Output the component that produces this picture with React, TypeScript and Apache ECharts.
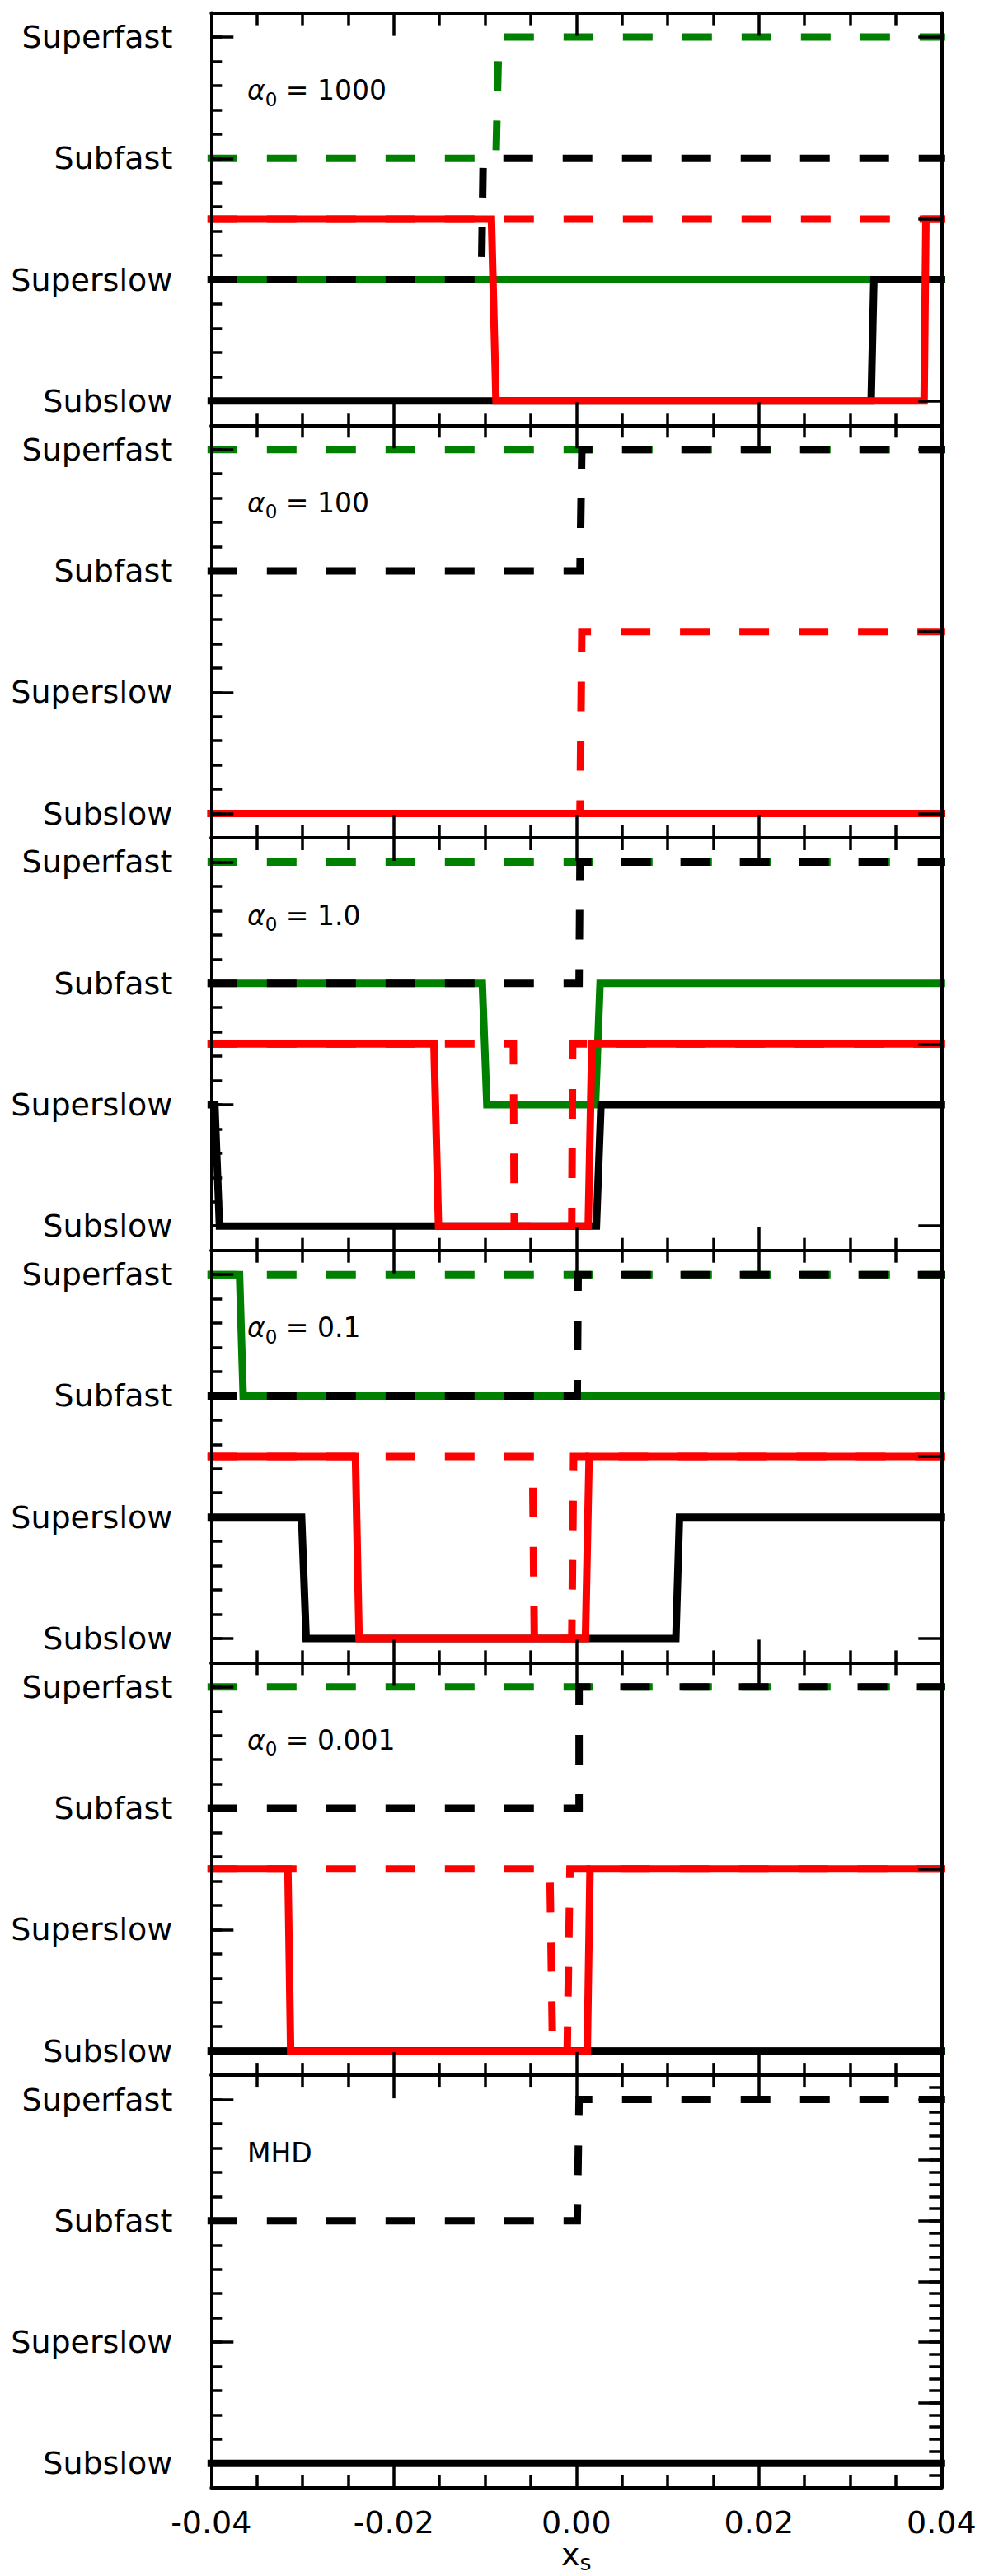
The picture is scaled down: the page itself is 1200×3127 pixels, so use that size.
import React, { useEffect, useRef } from 'react';
import * as echarts from 'echarts';

// ---------- axes / labels ----------
const X_MIN = -0.04;
const X_MAX = 0.04;
const Y_MIN = -0.2;
const Y_MAX = 3.2;
const regimeLabels = ['Subslow', 'Superslow', 'Subfast', 'Superfast'];
const regimeTicks = [0, 1, 2, 3];
const rightTicksAlpha = [0, 1.5, 3];
const rightTicksMHD = [0, 0.5, 1, 1.5, 2, 2.5, 3];
const panelTitles = ['1000', '100', '1.0', '0.1', '0.001', 'MHD'];

// ---------- data: [x_s, regime] ----------
// alpha0 = 1000
const a1000GreenSolid = [[-0.04, 1], [0.04, 1]];
const a1000BlackSolid = [[-0.04, 0], [0.0323, 0], [0.0326, 1], [0.04, 1]];
const a1000RedSolid = [[-0.04, 1.5], [-0.0093, 1.5], [-0.0088, 0], [0.0381, 0], [0.0383, 1.5], [0.04, 1.5]];
const a1000GreenDashed = [[-0.04, 2], [-0.0088, 2], [-0.0085, 3], [0.04, 3]];
const a1000BlackDashed = [[-0.04, 1], [-0.0104, 1], [-0.0102, 2], [0.04, 2]];
const a1000RedDashed = [[-0.04, 1.5], [0.04, 1.5]];

// alpha0 = 100
const a100GreenSolid = [[-0.04, 0], [0.04, 0]];
const a100BlackSolid = [[-0.04, 0], [0.04, 0]];
const a100RedSolid = [[-0.04, 0], [0.04, 0]];
const a100GreenDashed = [[-0.04, 3], [0.04, 3]];
const a100BlackDashed = [[-0.04, 2], [0.0004, 2], [0.0006, 3], [0.04, 3]];
const a100RedDashed = [[-0.04, 0], [0.0004, 0], [0.0006, 1.5], [0.04, 1.5]];

// alpha0 = 1.0
const a1GreenSolid = [[-0.04, 2], [-0.0103, 2], [-0.0098, 1], [0.0021, 1], [0.0026, 2], [0.04, 2]];
const a1BlackSolid = [[-0.04, 1], [-0.0396, 1], [-0.0391, 0], [0.0022, 0], [0.0027, 1], [0.04, 1]];
const a1RedSolid = [[-0.04, 1.5], [-0.0156, 1.5], [-0.0151, 0], [0.0013, 0], [0.0017, 1.5], [0.04, 1.5]];
const a1GreenDashed = [[-0.04, 3], [0.04, 3]];
const a1BlackDashed = [[-0.04, 2], [0.0003, 2], [0.0004, 3], [0.04, 3]];
const a1RedDashed = [[-0.04, 1.5], [-0.0069, 1.5], [-0.0068, 0], [-0.0005, 0], [-0.0004, 1.5], [0.04, 1.5]];

// alpha0 = 0.1
const a01GreenSolid = [[-0.04, 3], [-0.0369, 3], [-0.0365, 2], [0.04, 2]];
const a01BlackSolid = [[-0.04, 1], [-0.0301, 1], [-0.0296, 0], [0.0109, 0], [0.0113, 1], [0.04, 1]];
const a01RedSolid = [[-0.04, 1.5], [-0.0242, 1.5], [-0.0238, 0], [0.001, 0], [0.0014, 1.5], [0.04, 1.5]];
const a01GreenDashed = [[-0.04, 3], [0.04, 3]];
const a01BlackDashed = [[-0.04, 2], [0.0001, 2], [0.0002, 3], [0.04, 3]];
const a01RedDashed = [[-0.04, 1.5], [-0.0048, 1.5], [-0.0046, 0], [-0.0005, 0], [-0.0003, 1.5], [0.04, 1.5]];

// alpha0 = 0.001
const a0001GreenSolid = [[-0.04, 0], [0.04, 0]];
const a0001BlackSolid = [[-0.04, 0], [0.04, 0]];
const a0001RedSolid = [[-0.04, 1.5], [-0.0316, 1.5], [-0.0313, 0], [0.0012, 0], [0.0015, 1.5], [0.04, 1.5]];
const a0001GreenDashed = [[-0.04, 3], [0.04, 3]];
const a0001BlackDashed = [[-0.04, 2], [0.0003, 2], [0.0003, 3], [0.04, 3]];
const a0001RedDashed = [[-0.04, 1.5], [-0.0029, 1.5], [-0.0026, 0], [-0.001, 0], [-0.0007, 1.5], [0.04, 1.5]];

// MHD
const mhdBlackSolid = [[-0.04, 0], [0.04, 0]];
const mhdBlackDashed = [[-0.04, 2], [0.0001, 2], [0.0003, 3], [0.04, 3]];

// ---------- styling ----------
const FONT = '"DejaVu Sans", sans-serif';
const GREEN = '#008000';
const RED = '#ff0000';
const BLACK = '#000000';
const LINE_W = 9;
const DASH = [27, 45];
const GRID_LEFT = 256.3;
const GRID_RIGHT = 57.7;
const TOP0 = 15.6;
const PANEL_H = 500.7;

type Trace = { data: number[][]; color: string; dashed: boolean };

const panels: { title: string; traces: Trace[] }[] = [
  {
    title: panelTitles[0],
    traces: [
      { data: a1000GreenSolid, color: GREEN, dashed: false },
      { data: a1000BlackSolid, color: BLACK, dashed: false },
      { data: a1000RedSolid, color: RED, dashed: false },
      { data: a1000GreenDashed, color: GREEN, dashed: true },
      { data: a1000BlackDashed, color: BLACK, dashed: true },
      { data: a1000RedDashed, color: RED, dashed: true },
    ],
  },
  {
    title: panelTitles[1],
    traces: [
      { data: a100GreenSolid, color: GREEN, dashed: false },
      { data: a100BlackSolid, color: BLACK, dashed: false },
      { data: a100RedSolid, color: RED, dashed: false },
      { data: a100GreenDashed, color: GREEN, dashed: true },
      { data: a100BlackDashed, color: BLACK, dashed: true },
      { data: a100RedDashed, color: RED, dashed: true },
    ],
  },
  {
    title: panelTitles[2],
    traces: [
      { data: a1GreenSolid, color: GREEN, dashed: false },
      { data: a1BlackSolid, color: BLACK, dashed: false },
      { data: a1RedSolid, color: RED, dashed: false },
      { data: a1GreenDashed, color: GREEN, dashed: true },
      { data: a1BlackDashed, color: BLACK, dashed: true },
      { data: a1RedDashed, color: RED, dashed: true },
    ],
  },
  {
    title: panelTitles[3],
    traces: [
      { data: a01GreenSolid, color: GREEN, dashed: false },
      { data: a01BlackSolid, color: BLACK, dashed: false },
      { data: a01RedSolid, color: RED, dashed: false },
      { data: a01GreenDashed, color: GREEN, dashed: true },
      { data: a01BlackDashed, color: BLACK, dashed: true },
      { data: a01RedDashed, color: RED, dashed: true },
    ],
  },
  {
    title: panelTitles[4],
    traces: [
      { data: a0001GreenSolid, color: GREEN, dashed: false },
      { data: a0001BlackSolid, color: BLACK, dashed: false },
      { data: a0001RedSolid, color: RED, dashed: false },
      { data: a0001GreenDashed, color: GREEN, dashed: true },
      { data: a0001BlackDashed, color: BLACK, dashed: true },
      { data: a0001RedDashed, color: RED, dashed: true },
    ],
  },
  {
    title: panelTitles[5],
    traces: [
      { data: mhdBlackSolid, color: BLACK, dashed: false },
      { data: mhdBlackDashed, color: BLACK, dashed: true },
    ],
  },
];

function buildOption() {
  const grid: any[] = [];
  const xAxis: any[] = [];
  const yAxis: any[] = [];
  const series: any[] = [];
  const graphic: any[] = [];
  const tickStyle = { color: BLACK, width: 3.5 };
  const spine = { show: true, onZero: false, lineStyle: { color: BLACK, width: 4 } };

  panels.forEach((p, i) => {
    const top = TOP0 + i * PANEL_H;
    const isLast = i === panels.length - 1;
    const isMHD = p.title === 'MHD';
    grid.push({ left: GRID_LEFT, right: GRID_RIGHT, top, height: PANEL_H, containLabel: false });

    const xBase = {
      type: 'value',
      gridIndex: i,
      min: X_MIN,
      max: X_MAX,
      interval: 0.02,
      z: 5,
      axisLine: spine,
      axisTick: { show: true, inside: true, length: 28, lineStyle: tickStyle },
      minorTick: { show: true, splitNumber: 4, length: 15, lineStyle: tickStyle },
      splitLine: { show: false },
      minorSplitLine: { show: false },
    };
    const xBottomIdx = xAxis.length;
    xAxis.push({
      ...xBase,
      position: 'bottom',
      axisLabel: {
        show: isLast,
        margin: 23,
        fontSize: 38,
        fontFamily: FONT,
        color: BLACK,
        formatter: (v: number) => v.toFixed(2),
      },
      ...(isLast
        ? {
            name: '{x|x}{s|s}',
            nameLocation: 'middle',
            nameGap: 55,
            nameTextStyle: {
              rich: {
                x: { fontSize: 38, fontFamily: FONT, color: BLACK, verticalAlign: 'middle' },
                s: { fontSize: 27, fontFamily: FONT, color: BLACK, padding: [20, 0, 0, 0], verticalAlign: 'middle' },
              },
            },
          }
        : {}),
    });
    xAxis.push({ ...xBase, position: 'top', axisLabel: { show: false } });

    const yBase = { type: 'value', gridIndex: i, min: Y_MIN, max: Y_MAX, z: 5, splitLine: { show: false } };
    const yLeftIdx = yAxis.length;
    yAxis.push({
      ...yBase,
      position: 'left',
      interval: 0.2,
      axisLine: spine,
      axisTick: { show: true, inside: true, length: 27, customValues: regimeTicks, lineStyle: tickStyle },
      axisLabel: {
        show: true,
        customValues: regimeTicks,
        formatter: (v: number) => regimeLabels[Math.round(v)],
        margin: 47,
        fontSize: 38,
        fontFamily: FONT,
        color: BLACK,
      },
    });
    yAxis.push({
      ...yBase,
      position: 'left',
      interval: 0.2,
      axisLine: { show: false, onZero: false },
      axisTick: { show: true, inside: true, length: 13, lineStyle: tickStyle },
      axisLabel: { show: false },
    });
    yAxis.push({
      ...yBase,
      position: 'right',
      interval: 0.1,
      axisLine: spine,
      axisTick: {
        show: true,
        inside: true,
        length: 28,
        customValues: isMHD ? rightTicksMHD : rightTicksAlpha,
        lineStyle: tickStyle,
      },
      axisLabel: { show: false },
    });
    if (isMHD) {
      yAxis.push({
        ...yBase,
        position: 'right',
        interval: 0.1,
        axisLine: { show: false, onZero: false },
        axisTick: { show: true, inside: true, length: 15, lineStyle: tickStyle },
        axisLabel: { show: false },
      });
    }

    p.traces.forEach((t) => {
      series.push({
        type: 'line',
        xAxisIndex: xBottomIdx,
        yAxisIndex: yLeftIdx,
        data: t.data,
        showSymbol: false,
        symbol: 'none',
        silent: true,
        clip: true,
        z: 2,
        lineStyle: {
          color: t.color,
          width: LINE_W,
          type: t.dashed ? DASH : 'solid',
          cap: 'square',
          join: 'miter',
        },
      });
    });

    graphic.push({
      type: 'text',
      x: 300,
      y: top + 94,
      z: 100,
      silent: true,
      style: {
        text: isMHD ? p.title : `{a|α}{s|0}{t| = ${p.title}}`,
        font: `33px ${FONT}`,
        fill: BLACK,
        textAlign: 'left',
        textVerticalAlign: 'middle',
        verticalAlign: 'middle',
        rich: {
          a: { fontFamily: FONT, fontSize: 33, fontStyle: 'italic', fill: BLACK, color: BLACK, verticalAlign: 'middle' },
          s: { fontFamily: FONT, fontSize: 23, fill: BLACK, color: BLACK, padding: [22, 0, 0, 0], verticalAlign: 'middle' },
          t: { fontFamily: FONT, fontSize: 33, fill: BLACK, color: BLACK, verticalAlign: 'middle' },
        },
      },
    });
  });

  return {
    animation: false,
    backgroundColor: '#ffffff',
    grid,
    xAxis,
    yAxis,
    series,
    graphic,
  };
}

export default function App() {
  const ref = useRef<HTMLDivElement>(null);
  useEffect(() => {
    if (!ref.current) return;
    const chart = echarts.init(ref.current, null, { renderer: 'svg' });
    chart.setOption(buildOption() as any);
    return () => chart.dispose();
  }, []);
  return (
    <div
      ref={ref}
      style={{ position: 'absolute', left: 0, top: 0, width: 1200, height: 3127, background: '#fff' }}
    />
  );
}
